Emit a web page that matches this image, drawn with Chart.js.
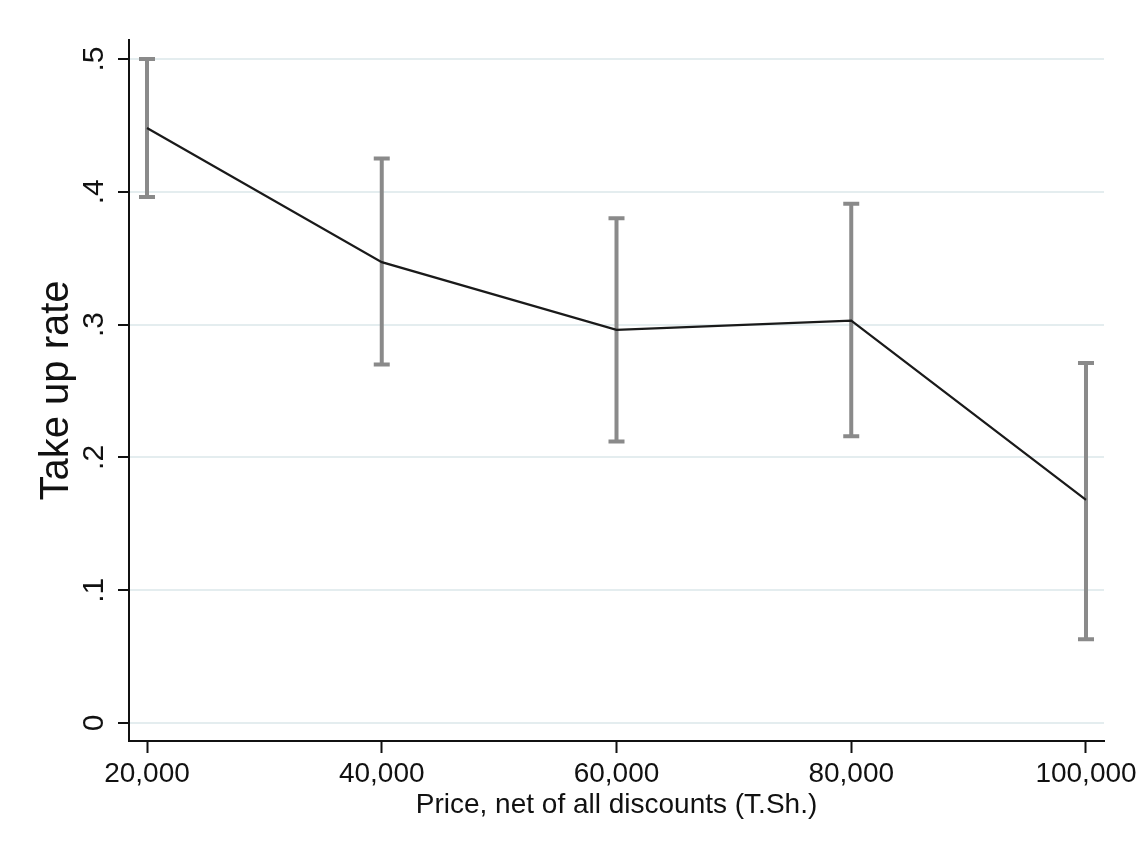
<!DOCTYPE html>
<html>
<head>
<meta charset="utf-8">
<script src="https://cdn.jsdelivr.net/npm/chart.js@4/dist/chart.umd.min.js"></script>
<style>
  html, body { margin: 0; padding: 0; background: #fff; }
  #wrap { width: 1145px; height: 851px; position: relative; }
</style>
</head>
<body>
<div id="wrap"><canvas id="takeupChart"></canvas></div>
<script>
// Take-up rate by price, with confidence intervals
const prices = [20000, 40000, 60000, 80000, 100000];
const takeUp = [0.448, 0.347, 0.296, 0.303, 0.168];
const ciLow = [0.396, 0.270, 0.212, 0.216, 0.063];
const ciHigh = [0.500, 0.425, 0.380, 0.391, 0.271];

const xTicks = [20000, 40000, 60000, 80000, 100000];
const yTicks = [0, 0.1, 0.2, 0.3, 0.4, 0.5];
const yTickLabels = ['0', '.1', '.2', '.3', '.4', '.5'];

const FONT = "'Liberation Sans', Arial, Helvetica, sans-serif";

// grey capped bars for the intervals, drawn under the line
const errorBars = {
  id: 'errorBars',
  beforeDatasetsDraw: (chart) => {
    const ctx = chart.ctx;
    const xs = chart.scales.x, ys = chart.scales.y;
    ctx.save();
    ctx.strokeStyle = '#8a8a8a';
    ctx.lineWidth = 4;
    ctx.lineCap = 'butt';
    prices.forEach((p, i) => {
      const x = xs.getPixelForValue(p);
      const yl = ys.getPixelForValue(ciLow[i]);
      const yh = ys.getPixelForValue(ciHigh[i]);
      ctx.beginPath();
      ctx.moveTo(x, yl); ctx.lineTo(x, yh);
      ctx.moveTo(x - 8, yl); ctx.lineTo(x + 8, yl);
      ctx.moveTo(x - 8, yh); ctx.lineTo(x + 8, yh);
      ctx.stroke();
    });
    ctx.restore();
  },
  // y tick labels are rotated like the Stata original
  afterDraw: (chart) => {
    const ctx = chart.ctx;
    const ys = chart.scales.y;
    ctx.save();
    ctx.fillStyle = '#111';
    ctx.font = '30px ' + FONT;
    ctx.textAlign = 'center';
    ctx.textBaseline = 'middle';
    yTicks.forEach((v, i) => {
      ctx.save();
      ctx.translate(95, ys.getPixelForValue(v));
      ctx.rotate(-Math.PI / 2);
      ctx.fillText(yTickLabels[i], 0, 0);
      ctx.restore();
    });
    ctx.restore();
  }
};

new Chart(document.getElementById('takeupChart'), {
  type: 'line',
  data: {
    datasets: [{
      data: prices.map((p, i) => ({ x: p, y: takeUp[i] })),
      borderColor: '#1a1a1a',
      borderWidth: 2.2,
      pointRadius: 0,
      tension: 0,
      fill: false
    }]
  },
  options: {
    responsive: true,
    maintainAspectRatio: false,
    animation: false,
    layout: { padding: { top: 40, right: 41, left: 0, bottom: 0 } },
    plugins: { legend: { display: false }, tooltip: { enabled: false } },
    scales: {
      x: {
        type: 'linear',
        min: 18466,
        max: 101534,
        afterBuildTicks: (s) => { s.ticks = xTicks.map(v => ({ value: v })); },
        afterFit: (s) => { s.height = 110; },
        grid: { drawOnChartArea: false, tickLength: 12, tickColor: '#111', tickWidth: 2 },
        border: { color: '#111', width: 2 },
        ticks: {
          color: '#111',
          padding: 4,
          maxRotation: 0,
          autoSkip: false,
          font: { family: FONT, size: 28 },
          callback: (v) => v.toLocaleString('en-US')
        },
        title: {
          display: true,
          text: 'Price, net of all discounts (T.Sh.)',
          color: '#111',
          font: { family: FONT, size: 28 },
          padding: { top: 0, bottom: 29 }
        }
      },
      y: {
        min: -0.01355,
        max: 0.5143,
        afterBuildTicks: (s) => { s.ticks = yTicks.map(v => ({ value: v })); },
        afterFit: (s) => { s.width = 129; },
        grid: { color: '#e4edef', lineWidth: 2, tickLength: 11, tickColor: '#111', tickWidth: 2 },
        border: { color: '#111', width: 2 },
        ticks: { display: false },
        title: {
          display: true,
          text: 'Take up rate',
          color: '#111',
          font: { family: FONT, size: 40 },
          padding: { top: 33, bottom: 0 }
        }
      }
    }
  },
  plugins: [errorBars]
});
</script>
</body>
</html>
